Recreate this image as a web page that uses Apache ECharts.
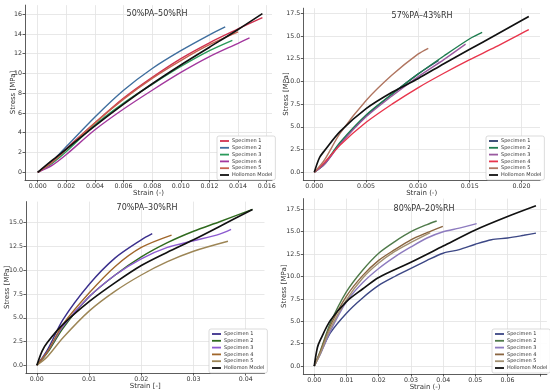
<!DOCTYPE html>
<html><head><meta charset="utf-8">
<script src="https://cdn.jsdelivr.net/npm/echarts@6/dist/echarts.min.js"></script>
<style>html,body{margin:0;padding:0;background:#fff}#c{width:550px;height:392px}</style>
</head><body><div id="c"></div>
<script>
// ---------- Panel 1: 50%PA–50%RH ----------
const p1_title = '50%PA\u201350%RH';
const p1_spec1 = [[0,0],[0.001,1.0],[0.002,2.4],[0.004,5.0],[0.006,7.5],[0.008,9.6],[0.010,11.5],[0.012,13.1],[0.014,14.5],[0.0157,15.65]];
const p1_spec2 = [[0,0],[0.001,1.1],[0.002,2.6],[0.004,5.6],[0.006,8.3],[0.008,10.5],[0.010,12.3],[0.012,13.9],[0.0131,14.7]];
const p1_spec3 = [[0,0],[0.001,0.9],[0.002,2.1],[0.004,4.8],[0.006,7.0],[0.008,8.9],[0.010,10.7],[0.012,12.3],[0.0136,13.35]];
const p1_spec4 = [[0,0],[0.001,0.7],[0.002,1.8],[0.004,4.3],[0.006,6.4],[0.008,8.3],[0.010,10.1],[0.012,11.7],[0.014,13.05],[0.0148,13.6]];
const p1_spec5 = [[0,0],[0.001,1.0],[0.002,2.3],[0.004,5.0],[0.006,7.4],[0.008,9.5],[0.010,11.3],[0.012,12.9],[0.0140,14.2]];
const p1_holl  = [[0,0],[0.001,1.2],[0.002,2.35],[0.004,4.7],[0.006,6.9],[0.008,8.95],[0.010,10.85],[0.012,12.65],[0.014,14.45],[0.0157,16.05]];
const p1_xticks = [0,0.002,0.004,0.006,0.008,0.010,0.012,0.014,0.016];
const p1_yticks = [0,2,4,6,8,10,12,14,16];

// ---------- Panel 2: 57%PA–43%RH ----------
const p2_title = '57%PA\u201343%RH';
const p2_spec1 = [[0,0],[0.001,0.9],[0.0025,3.2],[0.005,6.2],[0.0075,8.6],[0.010,10.8],[0.0120,12.3]];
const p2_spec2 = [[0,0],[0.001,1.0],[0.0025,3.3],[0.005,6.3],[0.0075,8.6],[0.010,10.8],[0.0125,12.8],[0.015,14.7],[0.0162,15.4]];
const p2_spec3 = [[0,0],[0.001,0.9],[0.0025,3.1],[0.005,6.1],[0.0075,8.4],[0.010,10.5],[0.0125,12.4],[0.0146,14.1]];
const p2_spec4 = [[0,0],[0.001,1.1],[0.0025,3.0],[0.005,5.5],[0.0075,7.5],[0.010,9.3],[0.0125,10.9],[0.015,12.4],[0.0175,13.8],[0.020,15.3],[0.0207,15.7]];
const p2_spec5 = [[0,0],[0.001,1.4],[0.0025,4.3],[0.005,7.9],[0.0075,10.7],[0.010,13.0],[0.0110,13.65]];
const p2_holl  = [[0,0],[0.0005,1.6],[0.001,2.4],[0.0025,4.5],[0.005,7.0],[0.0075,8.8],[0.010,10.3],[0.0125,11.95],[0.015,13.55],[0.0175,15.1],[0.020,16.7],[0.0207,17.15]];
const p2_xticks = [0,0.005,0.010,0.015,0.020];
const p2_yticks = [0,2.5,5,7.5,10,12.5,15,17.5];

// ---------- Panel 3: 70%PA–30%RH ----------
const p3_title = '70%PA\u201330%RH';
const p3_spec1 = [[0,0],[0.002,1.6],[0.005,4.8],[0.010,8.5],[0.015,11.3],[0.020,13.2],[0.0221,13.85]];
const p3_spec2 = [[0,0],[0.002,1.3],[0.005,3.9],[0.010,7.2],[0.015,9.5],[0.020,11.4],[0.025,12.9],[0.030,14.1],[0.035,15.1],[0.0413,16.4]];
const p3_spec3 = [[0,0],[0.002,1.4],[0.005,4.1],[0.010,7.2],[0.015,9.5],[0.020,11.2],[0.025,12.4],[0.030,13.1],[0.035,13.8],[0.0372,14.3]];
const p3_spec4 = [[0,0],[0.002,1.4],[0.005,4.3],[0.010,7.6],[0.015,10.4],[0.020,12.4],[0.0258,13.7]];
const p3_spec5 = [[0,0],[0.002,0.9],[0.005,2.9],[0.010,5.7],[0.015,7.8],[0.020,9.5],[0.025,10.9],[0.030,12.0],[0.0366,13.05]];
const p3_holl  = [[0,0],[0.001,1.5],[0.002,2.4],[0.005,4.3],[0.010,6.7],[0.015,8.7],[0.020,10.5],[0.025,11.9],[0.030,13.2],[0.035,14.6],[0.0413,16.4]];
const p3_xticks = [0,0.01,0.02,0.03,0.04];
const p3_yticks = [0,2.5,5,7.5,10,12.5,15];

// ---------- Panel 4: 80%PA–20%RH ----------
const p4_title = '80%PA\u201320%RH';
const p4_spec1 = [[0,0],[0.002,1.5],[0.005,3.7],[0.010,5.9],[0.015,7.6],[0.020,9.0],[0.025,10.0],[0.030,10.9],[0.035,11.8],[0.040,12.6],[0.045,13.0],[0.050,13.6],[0.055,14.1],[0.060,14.3],[0.065,14.6],[0.0688,14.85]];
const p4_spec2 = [[0,0],[0.002,1.8],[0.005,4.8],[0.010,8.3],[0.015,10.7],[0.020,12.6],[0.025,13.9],[0.030,15.0],[0.035,15.8],[0.0380,16.2]];
const p4_spec3 = [[0,0],[0.002,1.4],[0.005,3.9],[0.010,7.2],[0.015,9.3],[0.020,10.9],[0.025,12.2],[0.030,13.3],[0.035,14.3],[0.040,15.0],[0.045,15.4],[0.0504,15.9]];
const p4_spec4 = [[0,0],[0.002,1.7],[0.005,4.5],[0.010,7.8],[0.015,10.1],[0.020,11.8],[0.025,13.0],[0.030,14.1],[0.035,14.9],[0.0399,15.6]];
const p4_spec5 = [[0,0],[0.002,1.5],[0.005,4.2],[0.010,7.4],[0.015,9.8],[0.020,11.5],[0.025,12.8],[0.030,13.8],[0.0360,14.9]];
const p4_holl  = [[0,0],[0.001,2.1],[0.002,3.0],[0.005,5.1],[0.010,7.2],[0.015,8.6],[0.020,9.9],[0.030,11.6],[0.040,13.4],[0.050,15.2],[0.060,16.7],[0.0688,17.9]];
const p4_xticks = [0,0.01,0.02,0.03,0.04,0.05,0.06,0.07];
const p4_xlabels = [0,0.01,0.02,0.03,0.04,0.05,0.06];
const p4_yticks = [0,2.5,5,7.5,10,12.5,15,17.5];

const seriesNames = ['Specimen 1','Specimen 2','Specimen 3','Specimen 4','Specimen 5','Hollomon Model'];

// ---------- layout / style ----------
const FONT = 'DejaVu Sans';
const panels = [
  { title:p1_title, data:[p1_spec1,p1_spec2,p1_spec3,p1_spec4,p1_spec5,p1_holl],
    colors:['#d1314f','#3f6e9e','#2a9a5a','#a3389e','#c8614f','#111111'],
    grid:{left:25,top:5.1,width:247,height:174.9}, xmin:-0.00089, xmax:0.01637, ymin:-0.78, ymax:16.91,
    xticks:p1_xticks, xlabels:p1_xticks, yticks:p1_yticks, xdec:3, ydec:0,
    xname:'Strain (-)', xgap:10, ygap:8.5, titleXY:[157,14], legend:{left:217,top:136} },
  { title:p2_title, data:[p2_spec1,p2_spec2,p2_spec3,p2_spec4,p2_spec5,p2_holl],
    colors:['#2c3e6b','#1f7d50','#9a5aa0','#e8354c','#b07560','#111111'],
    grid:{left:303.3,top:8.2,width:236.7,height:171.8}, xmin:-0.00106, xmax:0.02178, ymin:-0.85, ymax:18.06,
    xticks:p2_xticks, xlabels:p2_xticks, yticks:p2_yticks, xdec:3, ydec:1,
    xname:'Strain (-)', xgap:10, ygap:14, titleXY:[422,16], legend:{left:486,top:136} },
  { title:p3_title, data:[p3_spec1,p3_spec2,p3_spec3,p3_spec4,p3_spec5,p3_holl],
    colors:['#3a2f8c','#2f6a1e','#8c5bd0','#a0662a','#9c8555','#111111'],
    grid:{left:25.9,top:201.6,width:238.6,height:171.5}, xmin:-0.0021, xmax:0.0436, ymin:-0.82, ymax:17.22,
    xticks:p3_xticks, xlabels:p3_xticks, yticks:p3_yticks, xdec:2, ydec:1,
    xname:'Strain [-]', xgap:9.2, ygap:15, titleXY:[147,208], legend:{left:209,top:329} },
  { title:p4_title, data:[p4_spec1,p4_spec2,p4_spec3,p4_spec4,p4_spec5,p4_holl],
    colors:['#3c4785','#4f7a4a','#8d7bbf','#8a6540','#a39070','#111111'],
    grid:{left:303.3,top:198.6,width:243.6,height:175.9}, xmin:-0.0034, xmax:0.0722, ymin:-0.89, ymax:18.7,
    xticks:p4_xticks, xlabels:p4_xlabels, yticks:p4_yticks, xdec:2, ydec:1,
    xname:'Strain (-)', xgap:10, ygap:15.5, titleXY:[424,209], legend:{left:492,top:329} }
];

const axisLineStyle = {color:'#333', width:0.8};
const grids=[], xAxes=[], yAxes=[], series=[], legends=[], graphics=[];
panels.forEach((p,i)=>{
  grids.push(Object.assign({containLabel:false}, p.grid));
  xAxes.push({
    type:'value', gridIndex:i, min:p.xmin, max:p.xmax,
    name:p.xname, nameLocation:'middle', nameGap:p.xgap, nameMoveOverlap:false,
    nameTextStyle:{fontFamily:FONT,fontSize:7,color:'#333'},
    axisLine:{show:true,onZero:false,lineStyle:axisLineStyle},
    axisTick:{show:true,inside:false,length:2.5,customValues:p.xticks,lineStyle:axisLineStyle},
    axisLabel:{show:true,customValues:p.xlabels,formatter:v=>Number(v).toFixed(p.xdec),
      fontFamily:FONT,fontSize:6.3,color:'#333',margin:3},
    splitLine:{show:true,lineStyle:{color:'#e2e2e2',width:0.8}}
  });
  yAxes.push({
    type:'value', gridIndex:i, min:p.ymin, max:p.ymax,
    name:'Stress [MPa]', nameLocation:'middle', nameGap:p.ygap, nameMoveOverlap:false,
    nameTextStyle:{fontFamily:FONT,fontSize:7,color:'#333'},
    axisLine:{show:true,onZero:false,lineStyle:axisLineStyle},
    axisTick:{show:true,inside:false,length:2.5,customValues:p.yticks,lineStyle:axisLineStyle},
    axisLabel:{show:true,customValues:p.yticks,formatter:v=>Number(v).toFixed(p.ydec),
      fontFamily:FONT,fontSize:6.3,color:'#333',margin:3},
    splitLine:{show:true,lineStyle:{color:'#e2e2e2',width:0.8}}
  });
  const names=[];
  p.data.forEach((d,k)=>{
    const nm = seriesNames[k]+'#'+i;
    names.push(nm);
    series.push({
      name:nm, type:'line', xAxisIndex:i, yAxisIndex:i, data:d,
      symbol:'none', showSymbol:false, smooth:0.3,
      color:p.colors[k], lineStyle:{color:p.colors[k], width:k===5?1.7:1.4},
      z: k===5?4:2, clip:true, silent:true
    });
  });
  legends.push({
    data:names, orient:'vertical', left:p.legend.left, top:p.legend.top,
    icon:'rect', itemWidth:9, itemHeight:1.8, itemGap:0.8,
    formatter:n=>n.split('#')[0],
    textStyle:{fontFamily:FONT,fontSize:5,color:'#333',lineHeight:6,padding:[0,0,0,-2]},
    backgroundColor:'rgba(255,255,255,0.9)', borderColor:'#cccccc', borderWidth:0.7, borderRadius:2,
    padding:[2,3,2,3], selectedMode:false
  });
  graphics.push({type:'text', x:p.titleXY[0], y:p.titleXY[1], z:10,
    style:{text:p.title, align:'center', verticalAlign:'middle', fontFamily:FONT, fontSize:8, fill:'#333'}});
});

const chart = echarts.init(document.getElementById('c'), null, {renderer:'canvas'});
chart.setOption({
  animation:false, backgroundColor:'#ffffff',
  grid:grids, xAxis:xAxes, yAxis:yAxes, series:series, legend:legends, graphic:graphics
});
</script>
</body></html>
